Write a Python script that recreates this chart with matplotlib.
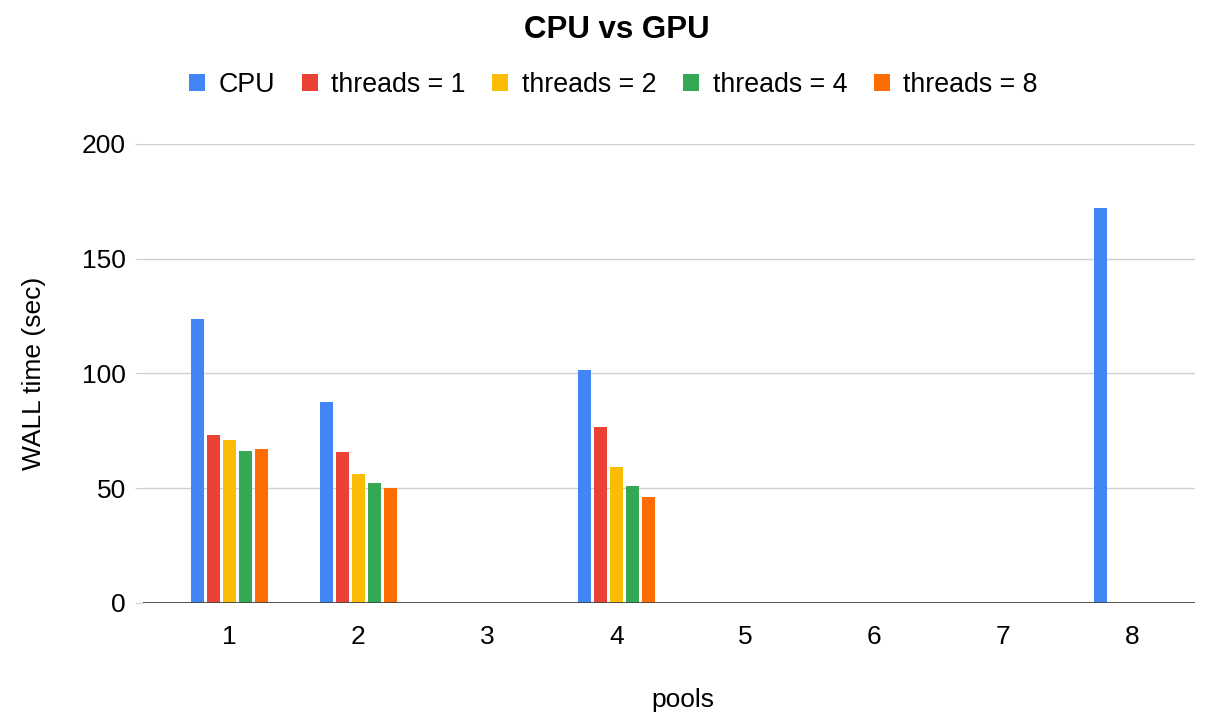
import numpy as np
import matplotlib.pyplot as plt
from matplotlib.patches import Patch

plt.rcParams["font.family"] = ["Liberation Sans", "DejaVu Sans"]

# datos (NaN = sin barra)
pools = [1, 2, 3, 4, 5, 6, 7, 8]
cpu = [123.5, 87.6, np.nan, 101.7, np.nan, np.nan, np.nan, 172.2]
threads_1 = [73.3, 65.7, np.nan, 76.8, np.nan, np.nan, np.nan, np.nan]
threads_2 = [71.0, 56.3, np.nan, 59.1, np.nan, np.nan, np.nan, np.nan]
threads_4 = [66.3, 52.2, np.nan, 50.9, np.nan, np.nan, np.nan, np.nan]
threads_8 = [67.0, 50.3, np.nan, 46.3, np.nan, np.nan, np.nan, np.nan]

series = [
    ("CPU", cpu, "#4285F4"),
    ("threads = 1", threads_1, "#EA4335"),
    ("threads = 2", threads_2, "#FBBC04"),
    ("threads = 4", threads_4, "#34A853"),
    ("threads = 8", threads_8, "#FF6D01"),
]

fig = plt.figure(figsize=(12.1, 7.23), dpi=100)
ax = fig.add_axes([0.118, 0.166, 0.870, 0.635])

x = np.array(pools, dtype=float)
slot = 0.124
width = 0.1
for i, (name, vals, color) in enumerate(series):
    offset = (i - 2) * slot
    ax.bar(x + offset, vals, width=width, color=color, zorder=3)

ax.set_xlim(0.33, 8.49)
ax.set_ylim(0, 200)
ax.set_yticks([0, 50, 100, 150, 200])
ax.set_xticks(pools)
ax.grid(axis="y", color="#d0d0d0", linewidth=1, zorder=0)
ax.axhline(0, color="#444444", linewidth=1.3, zorder=4)

for s in ["top", "right", "left", "bottom"]:
    ax.spines[s].set_visible(False)

ax.tick_params(axis="y", length=6, color="#d0d0d0", labelsize=19, pad=6)
ax.tick_params(axis="x", length=0, labelsize=19, pad=16)

ax.set_ylabel("WALL time (sec)", fontsize=19, labelpad=26)
fig.text(0.564, 0.022, "pools", fontsize=19, ha="center")
fig.text(0.51, 0.948, "CPU vs GPU", fontsize=22.5, fontweight="bold", ha="center")

handles = [Patch(facecolor=c, label=n) for n, _, c in series]
fig.legend(
    handles=handles,
    loc="center",
    bbox_to_anchor=(0.507, 0.882),
    ncol=5,
    frameon=False,
    fontsize=19.3,
    handlelength=0.6,
    handleheight=0.6,
    handletextpad=0.5,
    columnspacing=1.0,
)

plt.savefig("out.png", dpi=100)
